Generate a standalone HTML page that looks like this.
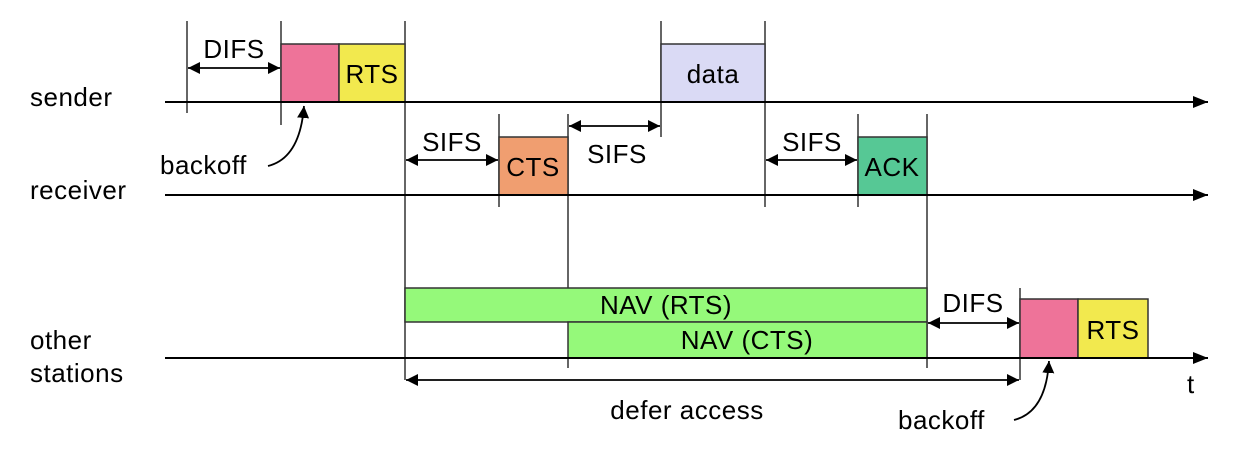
<!DOCTYPE html>
<html><head><meta charset="utf-8"><style>
html,body{margin:0;padding:0;background:#fff;}
svg{display:block}
text{font-family:"Liberation Sans",sans-serif;font-size:26px;fill:#000;letter-spacing:0.5px}
</style></head><body>
<svg width="1254" height="456" viewBox="0 0 1254 456" xmlns="http://www.w3.org/2000/svg">
<defs>
<marker id="a" viewBox="0 0 10 10" refX="10" refY="5" markerWidth="12" markerHeight="12" markerUnits="userSpaceOnUse" orient="auto-start-reverse"><path d="M0,0 L10,5 L0,10 z" fill="#000"/></marker>
<marker id="b" viewBox="0 0 10 10" refX="10" refY="5" markerWidth="15" markerHeight="15" markerUnits="userSpaceOnUse" orient="auto"><path d="M0,1 L10,5 L0,9 z" fill="#000"/></marker>
</defs>
<g stroke="#333" stroke-width="1.5">
<line x1="187" y1="21" x2="187" y2="113"/>
<line x1="281" y1="21" x2="281" y2="125"/>
<line x1="405" y1="21" x2="405" y2="380"/>
<line x1="661" y1="21" x2="661" y2="137"/>
<line x1="765" y1="21" x2="765" y2="207"/>
<line x1="499" y1="114" x2="499" y2="207"/>
<line x1="568" y1="114" x2="568" y2="288"/>
<line x1="568" y1="358" x2="568" y2="368"/>
<line x1="858" y1="114" x2="858" y2="207"/>
<line x1="927" y1="114" x2="927" y2="368"/>
<line x1="1020" y1="288" x2="1020" y2="380"/>
</g>
<g stroke="#333" stroke-width="1.5">
<rect x="281" y="44" width="58" height="58" fill="#ee7399"/>
<rect x="339" y="44" width="66" height="58" fill="#f2e94e"/>
<rect x="661" y="44" width="104" height="58" fill="#dadaf5"/>
<rect x="499" y="137" width="69" height="58" fill="#f09e70"/>
<rect x="858" y="137" width="69" height="58" fill="#56c895"/>
<rect x="405" y="288" width="522" height="34" fill="#95f97a"/>
<rect x="568" y="322" width="359" height="36" fill="#95f97a"/>
<rect x="1020" y="299" width="58" height="59" fill="#ee7399"/>
<rect x="1078" y="299" width="70" height="59" fill="#f2e94e"/>
</g>
<g stroke="#000" stroke-width="2" fill="none">
<line x1="165" y1="102" x2="1208" y2="102" marker-end="url(#b)"/>
<line x1="165" y1="195" x2="1208" y2="195" marker-end="url(#b)"/>
<line x1="165" y1="358" x2="1208" y2="358" marker-end="url(#b)"/>
</g>
<g stroke="#000" stroke-width="1.8" fill="none">
<line x1="188" y1="68" x2="280" y2="68" marker-start="url(#a)" marker-end="url(#a)"/>
<line x1="406" y1="160" x2="498" y2="160" marker-start="url(#a)" marker-end="url(#a)"/>
<line x1="569" y1="126" x2="660" y2="126" marker-start="url(#a)" marker-end="url(#a)"/>
<line x1="766" y1="160" x2="857" y2="160" marker-start="url(#a)" marker-end="url(#a)"/>
<line x1="928" y1="323" x2="1019" y2="323" marker-start="url(#a)" marker-end="url(#a)"/>
<line x1="406" y1="380" x2="1019" y2="380" marker-start="url(#a)" marker-end="url(#a)"/>
<path d="M268,166 Q300,158 304,106" marker-end="url(#a)"/>
<path d="M1014,420 Q1046,412 1049,361" marker-end="url(#a)"/>
</g>
<text x="30" y="106">sender</text>
<text x="30" y="199">receiver</text>
<text x="30" y="349">other</text>
<text x="30" y="382">stations</text>
<text x="234" y="58" text-anchor="middle">DIFS</text>
<text x="372" y="83" text-anchor="middle">RTS</text>
<text x="713" y="83" text-anchor="middle">data</text>
<text x="452" y="151" text-anchor="middle">SIFS</text>
<text x="533" y="176" text-anchor="middle">CTS</text>
<text x="617" y="163" text-anchor="middle">SIFS</text>
<text x="812" y="151" text-anchor="middle">SIFS</text>
<text x="892" y="176" text-anchor="middle">ACK</text>
<text x="160" y="174">backoff</text>
<text x="666" y="314" text-anchor="middle">NAV (RTS)</text>
<text x="747" y="349" text-anchor="middle">NAV (CTS)</text>
<text x="973" y="312" text-anchor="middle">DIFS</text>
<text x="1113" y="339" text-anchor="middle">RTS</text>
<text x="1187" y="393">t</text>
<text x="687" y="419" text-anchor="middle">defer access</text>
<text x="898" y="429">backoff</text>
</svg>
</body></html>
